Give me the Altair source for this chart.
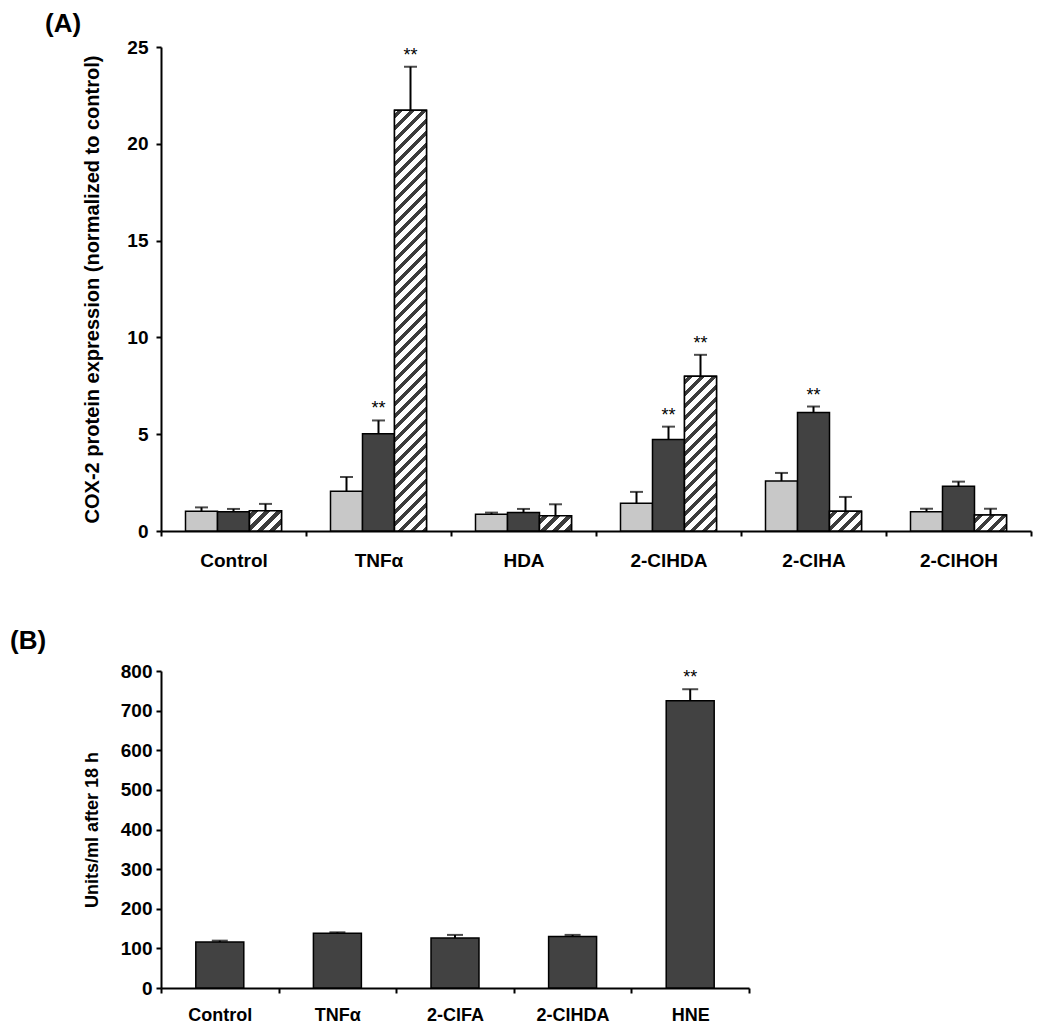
import altair as alt
import pandas as pd

# ---------------- data ----------------
categories_a = ["Control", "TNFα", "HDA", "2-ClHDA", "2-ClHA", "2-ClHOH"]
series_a = ["Series 1", "Series 2", "Series 3"]
light_vals = [1.02, 2.05, 0.86, 1.43, 2.58, 1.00]
light_err = [0.20, 0.74, 0.09, 0.59, 0.42, 0.15]
dark_vals = [1.00, 5.02, 0.95, 4.72, 6.12, 2.31]
dark_err = [0.14, 0.69, 0.19, 0.67, 0.31, 0.24]
hatch_vals = [1.05, 21.73, 0.79, 7.99, 1.02, 0.83]
hatch_err = [0.35, 2.25, 0.59, 1.11, 0.74, 0.32]
stars_a = [("TNFα", "Series 2"), ("TNFα", "Series 3"), ("2-ClHDA", "Series 2"),
           ("2-ClHDA", "Series 3"), ("2-ClHA", "Series 2")]
y_ticks_a = [0, 5, 10, 15, 20, 25]

categories_b = ["Control", "TNFα", "2-ClFA", "2-ClHDA", "HNE"]
vals_b = [116, 138, 126, 130, 725]
err_b = [3.5, 2.5, 8, 4, 29]
stars_b = ["HNE"]
y_ticks_b = [0, 100, 200, 300, 400, 500, 600, 700, 800]

# ---------------- tables ----------------
rows = []
for s, vals, errs in zip(series_a, [light_vals, dark_vals, hatch_vals], [light_err, dark_err, hatch_err]):
    for c, v, e in zip(categories_a, vals, errs):
        rows.append({"cat": c, "series": s, "value": v, "upper": v + e,
                     "star": "**" if (c, s) in stars_a else ""})
df_a = pd.DataFrame(rows)

df_b = pd.DataFrame({"cat": categories_b, "value": vals_b,
                     "upper": [v + e for v, e in zip(vals_b, err_b)],
                     "star": ["**" if c in stars_b else "" for c in categories_b]})

FONT = "Liberation Sans"
LIGHT, DARK, HATCH_INK = "#c8c8c8", "#424242", "#3c3c3c"

W_A, H_A = 870, 484
W_B, H_B = 588, 317
band_a = W_A / len(categories_a)
sub_w = 32.0
pad_outer_off = (band_a / sub_w - 3) / 2


def hatch_gradient(bar_w, bar_h, period=12.0, ink=0.45):
    L = bar_w + bar_h
    stops = [{"offset": 0, "color": "#ffffff"}]
    start = period * 0.3
    while start < L:
        s = start / L
        e = min((start + period * ink) / L, 1.0)
        stops += [{"offset": s, "color": "#ffffff"}, {"offset": s, "color": HATCH_INK},
                  {"offset": e, "color": HATCH_INK}, {"offset": e, "color": "#ffffff"}]
        start += period
    stops.append({"offset": 1, "color": "#ffffff"})
    d = bar_w ** 2 + bar_h ** 2
    return {"gradient": "linear", "x1": 0, "y1": 0,
            "x2": bar_w * L / d, "y2": bar_h * L / d, "stops": stops}


# ---------------- panel A ----------------
x_a = alt.X("cat:N", sort=categories_a,
            scale=alt.Scale(domain=categories_a, paddingInner=0, paddingOuter=0),
            axis=alt.Axis(title=None, labelAngle=0, tickBand="extent", labelFontSize=19,
                          labelPadding=15))
xo_a = alt.XOffset("series:N", scale=alt.Scale(domain=series_a, paddingInner=0,
                                               paddingOuter=pad_outer_off))
y_a = alt.Y("value:Q", scale=alt.Scale(domain=[0, 25], nice=False),
            axis=alt.Axis(values=y_ticks_a, title="COX-2 protein expression  (normalized to control)",
                          labelFontSize=19, labelPadding=8, titleFontSize=20, titlePadding=24,
                          labelOverlap=False))

base_a = alt.Chart(df_a)
bars_a = base_a.mark_bar(stroke="black", strokeWidth=1.5).encode(
    x=x_a, xOffset=xo_a, y=y_a,
    fill=alt.Fill("series:N", scale=alt.Scale(domain=series_a, range=[LIGHT, DARK, "#ffffff"]),
                  legend=None))

hatch_layers = []
for c, v in zip(categories_a, hatch_vals):
    grad = hatch_gradient(sub_w, v * H_A / 25)
    hatch_layers.append(
        base_a.transform_filter(f"datum.cat == '{c}' && datum.series == 'Series 3'")
        .mark_bar(fill=grad, stroke="black", strokeWidth=1.5)
        .encode(x=x_a, xOffset=xo_a, y=y_a))

err_a = base_a.mark_rule(color="black", strokeWidth=2).encode(
    x=x_a, xOffset=xo_a, y="value:Q", y2="upper:Q")
cap_a = base_a.mark_tick(color="black", size=13, thickness=2, orient="horizontal").encode(
    x=x_a, xOffset=xo_a, y="upper:Q")
star_a = base_a.transform_filter("datum.star != ''").mark_text(
    font=FONT, fontSize=18, baseline="alphabetic", dy=-6, color="black").encode(
    x=x_a, xOffset=xo_a, y="upper:Q", text="star:N")
lab_a = alt.Chart(pd.DataFrame({"t": ["(A)"]})).mark_text(
    font=FONT, fontSize=26, fontWeight="bold", align="left", baseline="alphabetic",
    color="black").encode(x=alt.value(-116), y=alt.value(-15), text="t:N")

panel_a = alt.layer(bars_a, *hatch_layers, err_a, cap_a, star_a, lab_a).properties(
    width=W_A, height=H_A)

# ---------------- panel B ----------------
x_b = alt.X("cat:N", sort=categories_b,
            scale=alt.Scale(domain=categories_b, paddingInner=0, paddingOuter=0),
            axis=alt.Axis(title=None, labelAngle=0, tickBand="extent", labelFontSize=18,
                          labelPadding=13))
y_b = alt.Y("value:Q", scale=alt.Scale(domain=[0, 800], nice=False),
            axis=alt.Axis(values=y_ticks_b, tickCount=9, title="Units/ml after 18 h",
                          labelFontSize=19, labelPadding=4, titleFontSize=18, titlePadding=19,
                          labelOverlap=False, labelSeparation=0))
base_b = alt.Chart(df_b)
bars_b = base_b.mark_bar(width=alt.RelativeBandSize(0.408), fill=DARK, stroke="black",
                         strokeWidth=1.5).encode(x=x_b, y=y_b)
err_b_l = base_b.mark_rule(color="black", strokeWidth=2).encode(x=x_b, y="value:Q", y2="upper:Q")
cap_b = base_b.mark_tick(color="black", size=16, thickness=2, orient="horizontal").encode(
    x=x_b, y="upper:Q")
star_b = base_b.transform_filter("datum.star != ''").mark_text(
    font=FONT, fontSize=18, baseline="alphabetic", dy=-6, color="black").encode(
    x=x_b, y="upper:Q", text="star:N")
lab_b = alt.Chart(pd.DataFrame({"t": ["(B)"]})).mark_text(
    font=FONT, fontSize=26, fontWeight="bold", align="left", baseline="alphabetic",
    color="black").encode(x=alt.value(-151), y=alt.value(-22), text="t:N")

panel_b = alt.layer(bars_b, err_b_l, cap_b, star_b, lab_b).properties(width=W_B, height=H_B)

chart = alt.vconcat(panel_a, panel_b, spacing=140, bounds="flush").properties(
    padding={"left": 2, "top": 3, "right": 10, "bottom": 10}
).configure_view(stroke=None).configure_axis(
    grid=False, domainColor="black", domainWidth=2, tickColor="black", tickWidth=2,
    tickSize=5, labelColor="black", labelFont=FONT, labelFontWeight="bold",
    titleColor="black", titleFont=FONT, titleFontWeight="bold"
).configure_axisY(labelOverlap=False)

chart.save("out.html", embed_options={"renderer": "svg", "actions": False})
